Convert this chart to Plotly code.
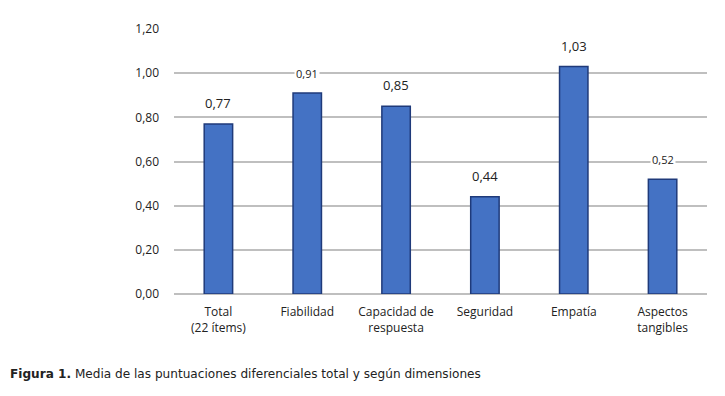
import plotly.graph_objects as go

categories = ["Total<br>(22 ítems)", "Fiabilidad", "Capacidad de<br>respuesta",
              "Seguridad", "Empatía", "Aspectos<br>tangibles"]
values = [0.77, 0.91, 0.85, 0.44, 1.03, 0.52]
label_sizes = [13, 11, 13, 13, 13, 11]
y_ticks = [0.0, 0.2, 0.4, 0.6, 0.8, 1.0, 1.2]

L, R, T, B = 166, 26, 15, 110
PW, PH = 725 - L - R, 396 - T - B

fig = go.Figure()
fig.add_trace(go.Bar(
    x=categories, y=values, width=0.32,
    marker=dict(color="#4472C4", line=dict(color="#1F3A7A", width=1.5)),
    hoverinfo="skip",
))

for c, v, s in zip(categories, values, label_sizes):
    fig.add_annotation(x=c, y=v, text=f"{v:.2f}".replace(".", ","),
                       showarrow=False, yanchor="bottom", yshift=10,
                       bgcolor="white", borderpad=1,
                       font=dict(family="Open Sans", size=s, color="#222"))

fig.add_annotation(xref="paper", yref="paper", x=-L / PW, y=-82 / PH,
                   xanchor="left", yanchor="middle", showarrow=False,
                   text="<b>Figura 1.</b> Media de las puntuaciones diferenciales total y según dimensiones",
                   font=dict(family="DejaVu Sans", size=12.1, color="#222"))

fig.update_layout(
    width=725, height=396,
    margin=dict(l=L, r=R, t=T, b=B),
    paper_bgcolor="white", plot_bgcolor="white",
    separators=",.",
    showlegend=False,
    font=dict(family="Open Sans", size=12, color="#222"),
)
fig.update_yaxes(range=[0, 1.2], tickvals=y_ticks, tickformat=".2f",
                 showgrid=True, gridcolor="#BFBFBF", gridwidth=1.5,
                 zeroline=True, zerolinecolor="#BFBFBF", zerolinewidth=1.5,
                 ticks="", ticklabelstandoff=14, showline=False)
fig.update_xaxes(showgrid=False, showline=False, ticks="",
                 ticklabelstandoff=9, tickfont=dict(size=12))

fig.write_html("out.html")
